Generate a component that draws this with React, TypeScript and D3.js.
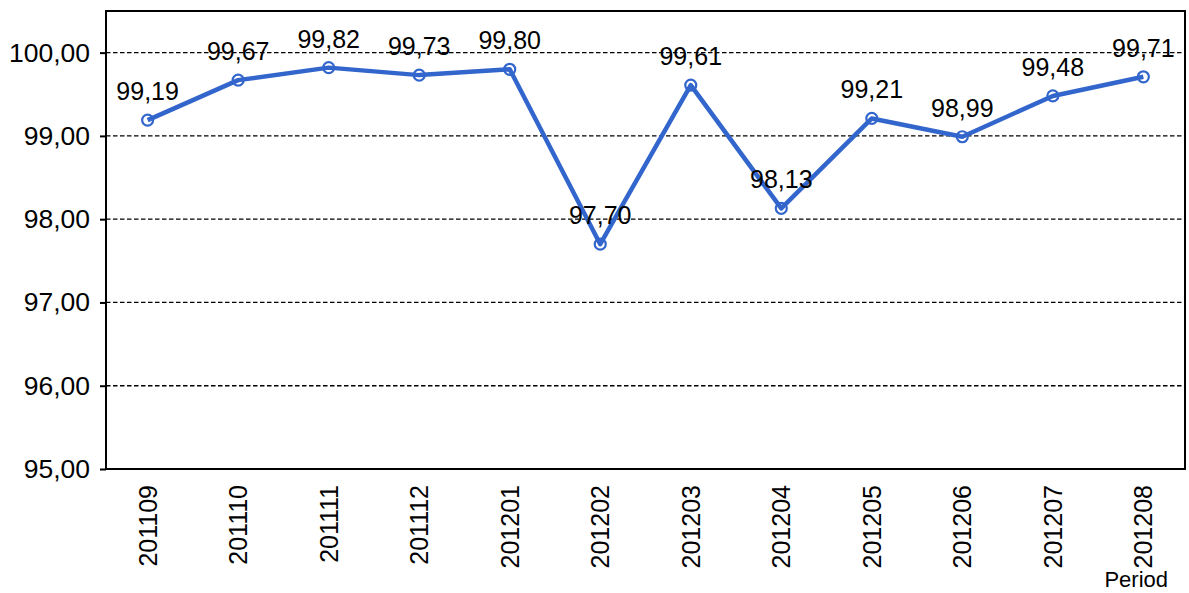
import React, { useEffect, useRef } from 'react';
import * as d3 from 'd3';

const periods = [
  '201109', '201110', '201111', '201112', '201201', '201202',
  '201203', '201204', '201205', '201206', '201207', '201208',
];
const values = [99.19, 99.67, 99.82, 99.73, 99.8, 97.7, 99.61, 98.13, 99.21, 98.99, 99.48, 99.71];
const yTicks = [95, 96, 97, 98, 99, 100];

const fmt = (v: number) => v.toFixed(2).replace('.', ',');

const App: React.FC = () => {
  const ref = useRef<SVGSVGElement>(null);

  useEffect(() => {
    const width = 1189;
    const height = 593;
    const m = { top: 11, right: 4, bottom: 124, left: 106 };
    const font = 'Liberation Sans, Arial, sans-serif';

    const svg = d3.select(ref.current);
    svg.selectAll('*').remove();

    const x = d3
      .scalePoint<string>()
      .domain(periods)
      .range([m.left, width - m.right])
      .padding(0.46);
    const y = d3
      .scaleLinear()
      .domain([95, 100.5])
      .range([height - m.bottom, m.top]);

    // dashed grid
    svg
      .append('g')
      .selectAll('line')
      .data(yTicks.filter((t) => t > 95))
      .join('line')
      .attr('x1', m.left)
      .attr('x2', width - m.right)
      .attr('y1', (d) => y(d))
      .attr('y2', (d) => y(d))
      .attr('stroke', '#000')
      .attr('stroke-width', 1.3)
      .attr('stroke-dasharray', '4.5,2.5');

    // frame
    svg
      .append('rect')
      .attr('x', m.left)
      .attr('y', m.top)
      .attr('width', width - m.right - m.left)
      .attr('height', height - m.bottom - m.top)
      .attr('fill', 'none')
      .attr('stroke', '#000')
      .attr('stroke-width', 2);

    // y axis
    const yAxis = svg
      .append('g')
      .attr('transform', `translate(${m.left},0)`)
      .call(
        d3
          .axisLeft(y)
          .tickValues(yTicks)
          .tickSize(6)
          .tickPadding(10)
          .tickFormat((d) => fmt(d as number))
      );
    yAxis.select('.domain').remove();
    yAxis.selectAll('.tick line').attr('stroke', '#000').attr('stroke-width', 2);
    yAxis
      .selectAll('.tick text')
      .attr('font-family', font)
      .attr('font-size', 26.5)
      .attr('fill', '#000');

    // x axis labels
    svg
      .append('g')
      .selectAll('text')
      .data(periods)
      .join('text')
      .attr('transform', (d) => `translate(${(x(d) ?? 0) + 9},485) rotate(-90)`)
      .attr('text-anchor', 'end')
      .attr('font-family', font)
      .attr('font-size', 25)
      .attr('fill', '#000')
      .text((d) => d);

    svg
      .append('text')
      .attr('x', 1168)
      .attr('y', 587)
      .attr('text-anchor', 'end')
      .attr('font-family', font)
      .attr('font-size', 22)
      .attr('fill', '#000')
      .text('Period');

    const color = '#3366CC';
    const line = d3
      .line<number>()
      .x((_, i) => x(periods[i]) ?? 0)
      .y((d) => y(d));

    svg
      .append('path')
      .datum(values)
      .attr('d', line)
      .attr('fill', 'none')
      .attr('stroke', color)
      .attr('stroke-width', 4.5)
      .attr('stroke-linejoin', 'round');

    svg
      .append('g')
      .selectAll('circle')
      .data(values)
      .join('circle')
      .attr('cx', (_, i) => x(periods[i]) ?? 0)
      .attr('cy', (d) => y(d))
      .attr('r', 5.5)
      .attr('fill', 'none')
      .attr('stroke', color)
      .attr('stroke-width', 2.2);

    svg
      .append('g')
      .selectAll('text')
      .data(values)
      .join('text')
      .attr('x', (_, i) => x(periods[i]) ?? 0)
      .attr('y', (d) => y(d) - 20)
      .attr('text-anchor', 'middle')
      .attr('font-family', font)
      .attr('font-size', 25)
      .attr('fill', '#000')
      .text((d) => fmt(d));
  }, []);

  return (
    <svg
      ref={ref}
      width={1189}
      height={593}
      style={{ position: 'absolute', left: 0, top: 0, background: '#fff' }}
    />
  );
};

export default App;
